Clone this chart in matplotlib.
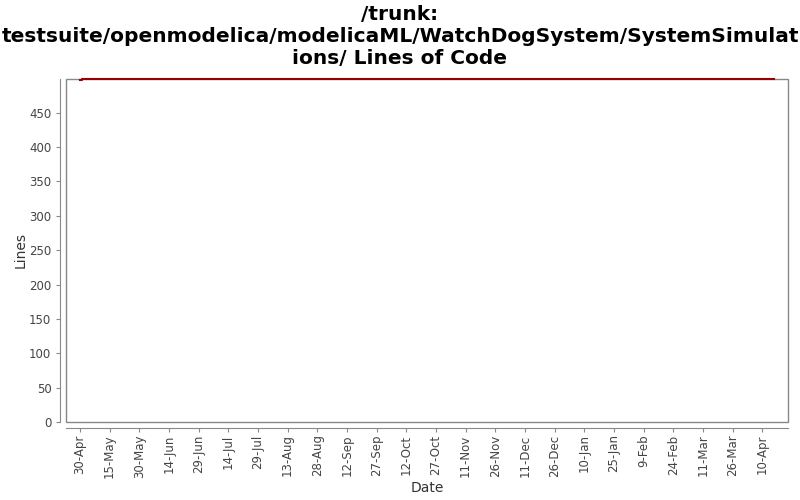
import numpy as np
import pandas as pd
import matplotlib; matplotlib.use('Agg')
import matplotlib.pyplot as plt
from matplotlib.patches import Rectangle

# data
dates = pd.to_datetime(['2010-04-30', '2010-05-01', '2011-04-16'])
lines = [497, 499, 499]

tick_dates = pd.date_range('2010-04-30', periods=24, freq='15D')
tick_labels = [f"{d.day}-{d.strftime('%b')}" for d in tick_dates]

TITLE = ('/trunk:\n'
         'testsuite/openmodelica/modelicaML/WatchDogSystem/SystemSimulat\n'
         'ions/ Lines of Code')

fig = plt.figure(figsize=(8, 5), dpi=100)
ax = fig.add_axes([66/800, 1 - 422/500, (788 - 66)/800, (422 - 79)/500])

# plot box plus offset axis lines, JFreeChart style
ax.add_patch(Rectangle((0, 0), 1, 1, transform=ax.transAxes, fill=False,
                       edgecolor='#888888', lw=1, clip_on=False, zorder=1))
ax.plot(dates, lines, color='#990000', lw=1.5, drawstyle='steps-post',
        clip_on=False, zorder=3)

ax.set_xlim(pd.Timestamp('2010-04-23'), pd.Timestamp('2011-04-23'))
ax.set_ylim(0, 499)
ax.set_yticks(np.arange(0, 451, 50))
ax.set_xticks(tick_dates)
ax.set_xticklabels(tick_labels)
ax.tick_params(axis='x', labelrotation=90, pad=2)

for s in ['top', 'right']:
    ax.spines[s].set_visible(False)
for s in ['left', 'bottom']:
    ax.spines[s].set_position(('outward', 4))
    ax.spines[s].set_color('#888888')
ax.tick_params(colors='#888888', labelcolor='#444444', labelsize=8.5, length=3)

ax.set_xlabel('Date', fontsize=10, color='#333333', labelpad=2)
ax.set_ylabel('Lines', fontsize=10, color='#333333', labelpad=1)
fig.suptitle(TITLE, fontsize=14.5, fontweight='bold', y=0.99, linespacing=1.2)

fig.savefig('out.png', dpi=100)
